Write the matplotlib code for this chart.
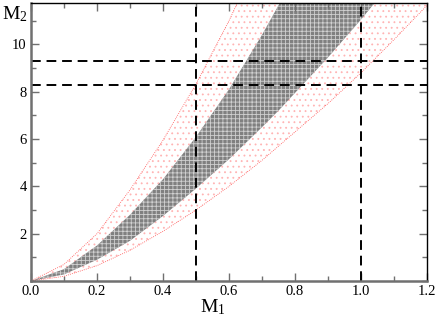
import matplotlib
matplotlib.use("Agg")
import matplotlib.pyplot as plt
from matplotlib.ticker import MultipleLocator

# curves (M1 -> M2)
m1_outer = [0.0, 0.1, 0.2, 0.3, 0.4, 0.5, 0.6, 0.65, 0.7, 0.8, 0.9, 1.0, 1.1, 1.2, 1.22]
outer_hi = [0.0, 0.7, 2.0, 3.85, 5.95, 8.33, 11.0, 12.5, 14.0, 16.0, 18.0, 20.0, 22.0, 24.0, 24.5]
outer_lo = [0.0, 0.2, 0.65, 1.3, 2.1, 3.0, 4.0, 4.55, 5.1, 6.3, 7.5, 8.8, 10.2, 11.65, 12.0]

m1_inner = [0.0, 0.1, 0.2, 0.3, 0.4, 0.5, 0.6, 0.7, 0.75, 0.8, 0.9, 1.0, 1.05]
inner_hi = [0.0, 0.5, 1.5, 2.8, 4.3, 6.09, 8.1, 10.4, 11.65, 12.9, 14.5, 16.0, 17.0]
inner_lo = [0.0, 0.28, 0.9, 1.7, 2.75, 3.91, 5.15, 6.5, 7.2, 7.95, 9.45, 11.05, 11.9]

vlines = [0.5, 1.0]
hlines = [8.3, 9.3]

plt.rcParams['font.family'] = 'Liberation Serif'
plt.rcParams['mathtext.fontset'] = 'custom'
plt.rcParams['mathtext.rm'] = 'Liberation Serif'
plt.rcParams['mathtext.it'] = 'Liberation Serif'
plt.rcParams['hatch.linewidth'] = 0.6

fig = plt.figure(figsize=(4.36, 3.16), dpi=100)
ax = fig.add_axes([31/436, 35/316, 396/436, 278/316])

ax.fill_between(m1_outer, outer_lo, outer_hi, facecolor='white',
                edgecolor='#ffb4b4', hatch='...', linewidth=0)
ax.plot(m1_outer, outer_hi, color='#ff5050', ls=(0, (1, 1.5)), lw=0.6)
ax.plot(m1_outer, outer_lo, color='#ff5050', ls=(0, (1, 1.5)), lw=0.6)

ax.fill_between(m1_inner, inner_lo, inner_hi, facecolor='#808080',
                edgecolor='#d0d0d0', hatch='++++', linewidth=0)

for x in vlines:
    ax.axvline(x, color='black', ls=(0, (5, 3)), lw=1.4)
for y in hlines:
    ax.axhline(y, color='black', ls=(0, (5, 3)), lw=1.4)

ax.set_xlim(0, 1.2)
ax.set_ylim(0, 11.75)
ax.xaxis.set_major_locator(MultipleLocator(0.2))
ax.xaxis.set_minor_locator(MultipleLocator(0.1))
ax.set_yticks([2, 4, 6, 8, 10])
ax.yaxis.set_minor_locator(MultipleLocator(1))
ax.xaxis.set_major_formatter(plt.FuncFormatter(lambda v, p: "%.1f" % v))

ax.tick_params(which='both', direction='in', top=True, right=True,
               labelsize=10.5, pad=3, color='#707070')
ax.tick_params(which='major', length=6, width=1)
ax.tick_params(which='minor', length=3.5, width=1)

for s in ['left', 'bottom']:
    ax.spines[s].set_color('#707070')
    ax.spines[s].set_linewidth(1.8)
for s in ['top', 'right']:
    ax.spines[s].set_color('black')
    ax.spines[s].set_linewidth(1.0)

ax.set_xlabel(r'$\mathrm{M}_1$', fontsize=14, labelpad=0)
ax.xaxis.set_label_coords(0.46, -0.06, transform=ax.transAxes)
ax.xaxis.label.set_va('top')
fig.text(2/436, 1 - 4/316, r'$\mathrm{M}_2$', fontsize=14, ha='left', va='top')

fig.savefig("out.png", dpi=100)
